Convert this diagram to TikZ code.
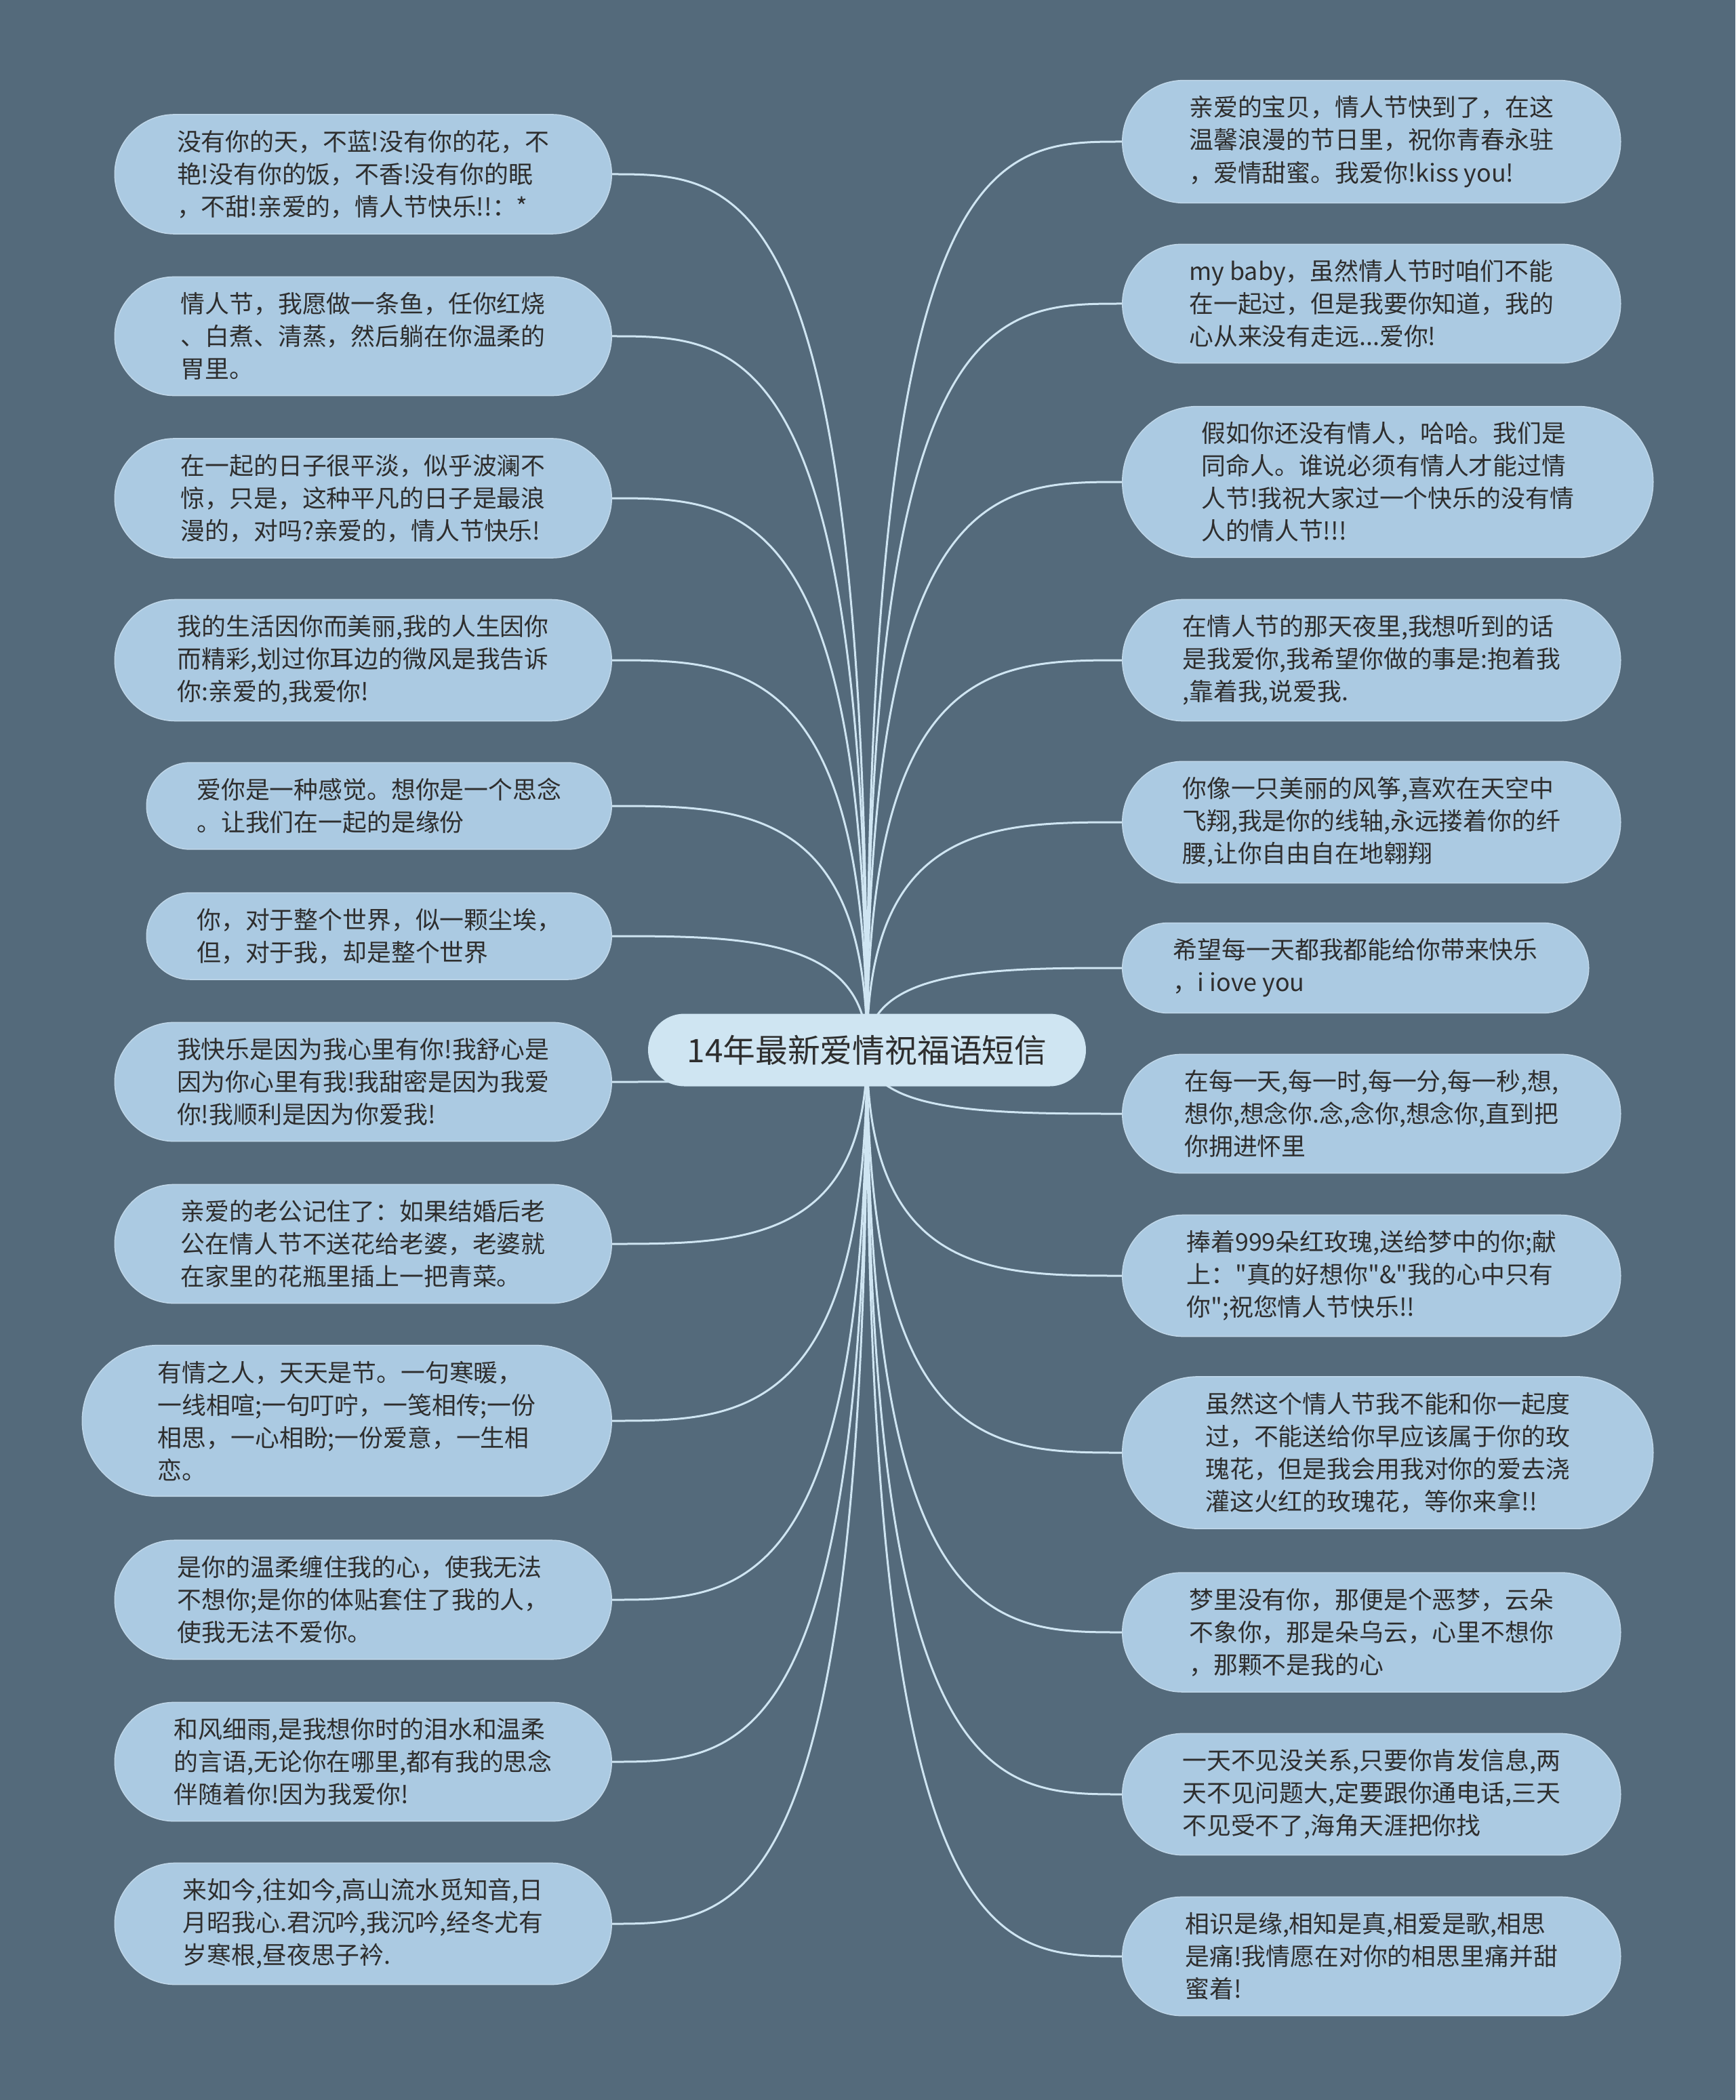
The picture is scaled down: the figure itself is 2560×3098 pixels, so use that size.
\documentclass[tikz,border=0pt]{standalone}
\usepackage{fontspec}
\setmainfont[Ligatures=TeXOff]{Noto Sans CJK SC}
\usetikzlibrary{shapes.misc,calc,backgrounds}
\definecolor{mapslate}{HTML}{546A7B}
\definecolor{mapleaf}{HTML}{ABCAE2}
\definecolor{maproot}{HTML}{CFE5F2}
\definecolor{mapink}{HTML}{2E2E2E}

\begin{document}
\begin{tikzpicture}[x=.1mm,y=-.1mm,
    leaf/.style={rounded rectangle,fill=mapleaf,draw=mapleaf!75!white,line width=.15mm,
      text=mapink,align=left,inner xsep=0pt,inner ysep=2.3mm,
      font=\fontsize{10.2}{13.66}\selectfont},
    root/.style={rounded rectangle,fill=maproot,text=mapink,inner sep=0pt,
      minimum width=64.6mm,minimum height=10.7mm,
      font=\fontsize{13.6}{16}\selectfont},
    link/.style={draw=maproot,line width=.3mm}]
    \useasboundingbox (0,0) rectangle (2560,3098);
    \node[root] (root) at (1279,1549) {14年最新爱情祝福语短信};
    % left branch
    \node[leaf,anchor=east,minimum width=73.3mm] (l1) at (903,257)
      {没有你的天，不蓝!没有你的花，不\\艳!没有你的饭，不香!没有你的眠\\，不甜!亲爱的，情人节快乐!!：*};
    \node[leaf,anchor=east,minimum width=73.3mm] (l2) at (903,496)
      {情人节，我愿做一条鱼，任你红烧\\、白煮、清蒸，然后躺在你温柔的\\胃里。};
    \node[leaf,anchor=east,minimum width=73.3mm] (l3) at (903,735)
      {在一起的日子很平淡，似乎波澜不\\惊，只是，这种平凡的日子是最浪\\漫的，对吗?亲爱的，情人节快乐!};
    \node[leaf,anchor=east,minimum width=73.3mm] (l4) at (903,974)
      {我的生活因你而美丽,我的人生因你\\而精彩,划过你耳边的微风是我告诉\\你:亲爱的,我爱你!};
    \node[leaf,anchor=east,minimum width=68.6mm] (l5) at (903,1189)
      {爱你是一种感觉。想你是一个思念\\。让我们在一起的是缘份};
    \node[leaf,anchor=east,minimum width=68.6mm] (l6) at (903,1381)
      {你，对于整个世界，似一颗尘埃，\\但，对于我，却是整个世界};
    \node[leaf,anchor=east,minimum width=73.3mm] (l7) at (903,1596)
      {我快乐是因为我心里有你!我舒心是\\因为你心里有我!我甜密是因为我爱\\你!我顺利是因为你爱我!};
    \node[leaf,anchor=east,minimum width=73.3mm] (l8) at (903,1835)
      {亲爱的老公记住了：如果结婚后老\\公在情人节不送花给老婆，老婆就\\在家里的花瓶里插上一把青菜。};
    \node[leaf,anchor=east,minimum width=78.1mm] (l9) at (903,2096)
      {有情之人，天天是节。一句寒暖，\\一线相喧;一句叮咛，一笺相传;一份\\相思，一心相盼;一份爱意，一生相\\恋。};
    \node[leaf,anchor=east,minimum width=73.3mm] (l10) at (903,2360)
      {是你的温柔缠住我的心，使我无法\\不想你;是你的体贴套住了我的人，\\使我无法不爱你。};
    \node[leaf,anchor=east,minimum width=73.3mm] (l11) at (903,2599)
      {和风细雨,是我想你时的泪水和温柔\\的言语,无论你在哪里,都有我的思念\\伴随着你!因为我爱你!};
    \node[leaf,anchor=east,minimum width=73.3mm] (l12) at (903,2838)
      {来如今,往如今,高山流水觅知音,日\\月昭我心.君沉吟,我沉吟,经冬尤有\\岁寒根,昼夜思子衿.};
    % right branch
    \node[leaf,anchor=west,minimum width=73.5mm] (r1) at (1655,209)
      {亲爱的宝贝，情人节快到了，在这\\温馨浪漫的节日里，祝你青春永驻\\，爱情甜蜜。我爱你!kiss you!};
    \node[leaf,anchor=west,minimum width=73.5mm] (r2) at (1655,448)
      {my baby，虽然情人节时咱们不能\\在一起过，但是我要你知道，我的\\心从来没有走远...爱你!};
    \node[leaf,anchor=west,minimum width=78.3mm] (r3) at (1655,711)
      {假如你还没有情人，哈哈。我们是\\同命人。谁说必须有情人才能过情\\人节!我祝大家过一个快乐的没有情\\人的情人节!!!};
    \node[leaf,anchor=west,minimum width=73.5mm] (r4) at (1655,974)
      {在情人节的那天夜里,我想听到的话\\是我爱你,我希望你做的事是:抱着我\\,靠着我,说爱我.};
    \node[leaf,anchor=west,minimum width=73.5mm] (r5) at (1655,1213)
      {你像一只美丽的风筝,喜欢在天空中\\飞翔,我是你的线轴,永远搂着你的纤\\腰,让你自由自在地翱翔};
    \node[leaf,anchor=west,minimum width=68.8mm] (r6) at (1655,1428)
      {希望每一天都我都能给你带来快乐\\，i iove you};
    \node[leaf,anchor=west,minimum width=73.5mm] (r7) at (1655,1643)
      {在每一天,每一时,每一分,每一秒,想,\\想你,想念你.念,念你,想念你,直到把\\你拥进怀里};
    \node[leaf,anchor=west,minimum width=73.5mm] (r8) at (1655,1882)
      {捧着999朵红玫瑰,送给梦中的你;献\\上："真的好想你"\&"我的心中只有\\你";祝您情人节快乐!!};
    \node[leaf,anchor=west,minimum width=78.3mm] (r9) at (1655,2143)
      {虽然这个情人节我不能和你一起度\\过，不能送给你早应该属于你的玫\\瑰花，但是我会用我对你的爱去浇\\灌这火红的玫瑰花，等你来拿!!};
    \node[leaf,anchor=west,minimum width=73.5mm] (r10) at (1655,2408)
      {梦里没有你，那便是个恶梦，云朵\\不象你，那是朵乌云，心里不想你\\，那颗不是我的心};
    \node[leaf,anchor=west,minimum width=73.5mm] (r11) at (1655,2647)
      {一天不见没关系,只要你肯发信息,两\\天不见问题大,定要跟你通电话,三天\\不见受不了,海角天涯把你找};
    \node[leaf,anchor=west,minimum width=73.5mm] (r12) at (1655,2886)
      {相识是缘,相知是真,相爱是歌,相思\\是痛!我情愿在对你的相思里痛并甜\\蜜着!};
    \begin{scope}[on background layer]
      \fill[mapslate] (0,0) rectangle (2560,3098);
      \foreach \i in {1,...,12} {
        \draw[link] (root.center) .. controls (root.center |- l\i.east)
          and ($(root.center |- l\i.east)!.5!(l\i.east)$) .. (l\i.east);
        \draw[link] (root.center) .. controls (root.center |- r\i.west)
          and ($(root.center |- r\i.west)!.5!(r\i.west)$) .. (r\i.west);
      }
    \end{scope}
  \end{tikzpicture}
\end{document}
